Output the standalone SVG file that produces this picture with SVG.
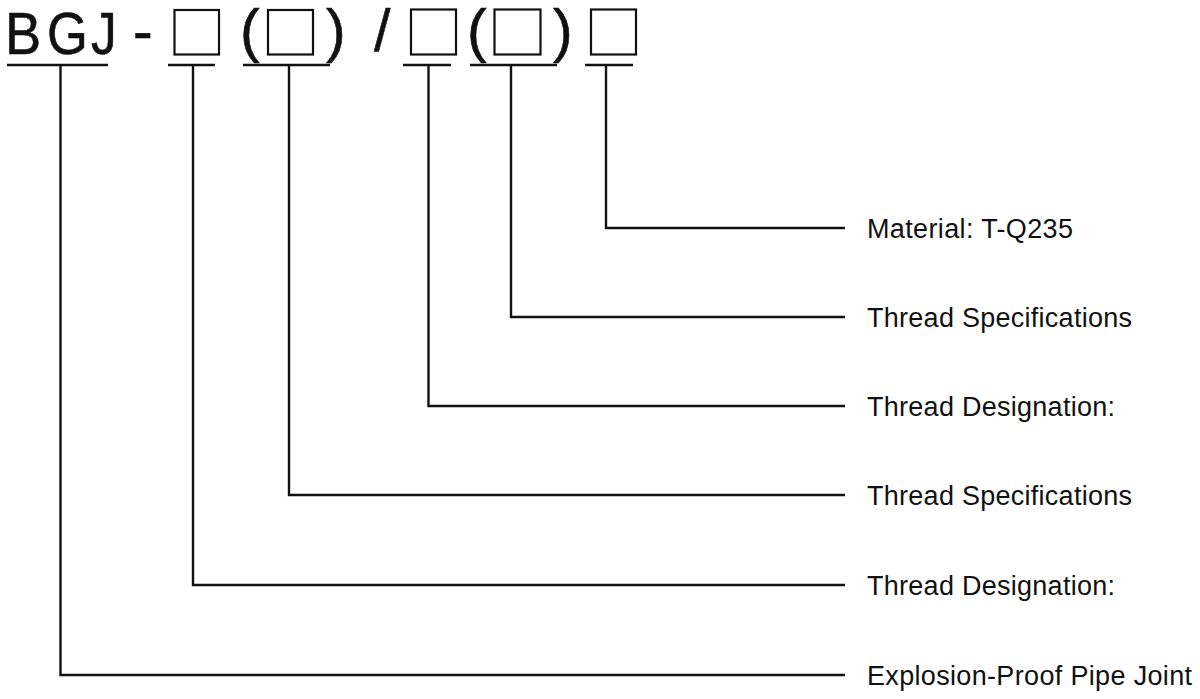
<svg xmlns="http://www.w3.org/2000/svg" width="1200" height="699" viewBox="0 0 1200 699">
<style>
.code{font-family:"Liberation Sans",Arial,sans-serif;font-size:59px;fill:#111;stroke:#111;stroke-width:0.6}
.lbl{font-family:"Liberation Sans",Arial,sans-serif;font-size:27px;fill:#111}
.box{fill:none;stroke:#111;stroke-width:2.2}
.ln{fill:none;stroke:#111;stroke-width:2.4;stroke-linecap:butt;stroke-linejoin:miter}
</style>
<rect width="1200" height="699" fill="#fff"/>
<g id="code">
  <text class="code" transform="translate(5,54) scale(0.92,1)">B</text>
  <text class="code" transform="translate(47,54) scale(0.89,1)">G</text>
  <text class="code" transform="translate(91,54) scale(0.87,1)">J</text>
  <text class="code" x="133" y="51" font-size="56" stroke-width="1.4">-</text>
  <text class="code" x="240" y="51" font-size="56">(</text>
  <text class="code" x="326" y="51" font-size="56">)</text>
  <text class="code" x="374" y="51" font-size="56">/</text>
  <text class="code" x="467" y="51" font-size="56">(</text>
  <text class="code" x="553" y="51" font-size="56">)</text>
</g>
<g id="box1"><rect class="box" x="174.5" y="10" width="44.5" height="44.5"/></g>
<g id="box2"><rect class="box" x="268" y="10" width="45" height="44.5"/></g>
<g id="box3"><rect class="box" x="411" y="9.5" width="45" height="45"/></g>
<g id="box4"><rect class="box" x="494.5" y="9.5" width="46" height="45"/></g>
<g id="box5"><rect class="box" x="591" y="9.5" width="45" height="45"/></g>
<g id="connectors">
  <line class="ln" x1="7" y1="65" x2="108" y2="65"/>
  <line class="ln" x1="168" y1="65" x2="215" y2="65"/>
  <line class="ln" x1="243" y1="65" x2="330" y2="65"/>
  <line class="ln" x1="403" y1="65" x2="451" y2="65"/>
  <line class="ln" x1="470" y1="65" x2="557" y2="65"/>
  <line class="ln" x1="585" y1="65" x2="633" y2="65"/>
  <polyline class="ln" points="606,65 606,228 845,228"/>
  <polyline class="ln" points="511,65 511,317 845,317"/>
  <polyline class="ln" points="428.5,65 428.5,406 845,406"/>
  <polyline class="ln" points="289,65 289,495 845,495"/>
  <polyline class="ln" points="193,65 193,585 845,585"/>
  <polyline class="ln" points="60.5,65 60.5,675 845,675"/>
</g>
<g id="label-material"><text class="lbl" x="867" y="238" textLength="206" lengthAdjust="spacing">Material: T-Q235</text></g>
<g id="label-spec2"><text class="lbl" x="867" y="327" textLength="265" lengthAdjust="spacing">Thread Specifications</text></g>
<g id="label-desig2"><text class="lbl" x="867" y="416" textLength="248" lengthAdjust="spacing">Thread Designation:</text></g>
<g id="label-spec1"><text class="lbl" x="867" y="505" textLength="265" lengthAdjust="spacing">Thread Specifications</text></g>
<g id="label-desig1"><text class="lbl" x="867" y="595" textLength="248" lengthAdjust="spacing">Thread Designation:</text></g>
<g id="label-joint"><text class="lbl" x="867" y="685" textLength="325" lengthAdjust="spacing">Explosion-Proof Pipe Joint</text></g>
</svg>
